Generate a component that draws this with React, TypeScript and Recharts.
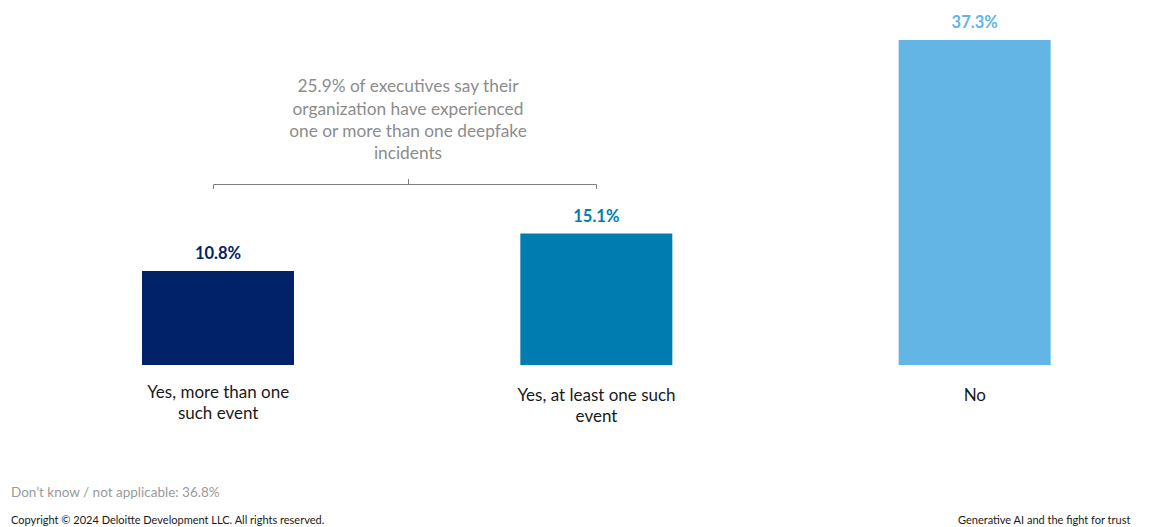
import { BarChart, Bar, XAxis, YAxis, Cell, LabelList } from 'recharts'

const categories = ['Yes, more than one such event', 'Yes, at least one such event', 'No']
const tickLines = [
  ['Yes, more than one', 'such event'],
  ['Yes, at least one such', 'event'],
  ['No'],
]
const values = [10.8, 15.1, 37.3]
const colors = ['#012169', '#007CB0', '#62B5E5']
const annotationLines = [
  '25.9% of executives say their',
  'organization have experienced',
  'one or more than one deepfake',
  'incidents',
]

const data = categories.map((c, i) => ({ name: c, value: values[i], idx: i }))

const font = 'Lato, "Open Sans", sans-serif'

function CategoryTick(props: any) {
  const { x, y, index } = props
  const lines = tickLines[index] || []
  const dy = index === 0 ? 21 : 24
  return (
    <g>
      {lines.map((l, i) => (
        <text
          key={i}
          x={x}
          y={y + dy + i * 21}
          textAnchor="middle"
          dominantBaseline="middle"
          fontSize={17}
          fill="#1a1a1a"
          fontFamily={font}
        >
          {l}
        </text>
      ))}
    </g>
  )
}

function ValueLabel(props: any) {
  const { x, y, width, value, index } = props
  return (
    <text
      x={x + width / 2}
      y={y - 16}
      textAnchor="middle"
      dominantBaseline="middle"
      fontSize={16.5}
      fontWeight={700}
      fill={colors[index]}
      fontFamily={font}
    >
      {`${value.toFixed(1)}%`}
    </text>
  )
}

export default function App() {
  return (
    <div style={{ position: 'absolute', left: 0, top: 0, width: 1174, height: 527, background: '#fff', fontFamily: font }}>
      <BarChart
        width={1174}
        height={527}
        data={data}
        margin={{ top: 40, right: 10, bottom: 102, left: 29 }}
        barSize={152}
      >
        <XAxis dataKey="name" axisLine={false} tickLine={false} interval={0} tick={<CategoryTick />} height={60} />
        <YAxis hide domain={[0, 37.3]} />
        <Bar dataKey="value" isAnimationActive={false}>
          {data.map((d) => (
            <Cell key={d.name} fill={colors[d.idx]} />
          ))}
          <LabelList dataKey="value" content={<ValueLabel />} />
        </Bar>
      </BarChart>
      <svg width={1174} height={527} style={{ position: 'absolute', left: 0, top: 0, pointerEvents: 'none' }}>
        {annotationLines.map((l, i) => (
          <text
            key={i}
            x={408}
            y={88 + i * 22.3}
            textAnchor="middle"
            dominantBaseline="middle"
            fontSize={17.3}
            fill="#8c8c8c"
            fontFamily={font}
          >
            {l}
          </text>
        ))}
        <path d="M213.5 189 V184.5 H596.5 V189 M408.5 184.5 V179" stroke="#7f7f7f" strokeWidth={1} fill="none" />
        <text x={11} y={494} fontSize={13.5} fill="#9a9a9a" dominantBaseline="middle" fontFamily={font}>
          Don’t know / not applicable: 36.8%
        </text>
        <text x={11} y={521} fontSize={11} fill="#1a1a1a" dominantBaseline="middle" fontFamily={font}>
          Copyright © 2024 Deloitte Development LLC. All rights reserved.
        </text>
        <text x={958} y={521} fontSize={11} fill="#1a1a1a" dominantBaseline="middle" fontFamily={font}>
          Generative AI and the fight for trust
        </text>
      </svg>
    </div>
  )
}
